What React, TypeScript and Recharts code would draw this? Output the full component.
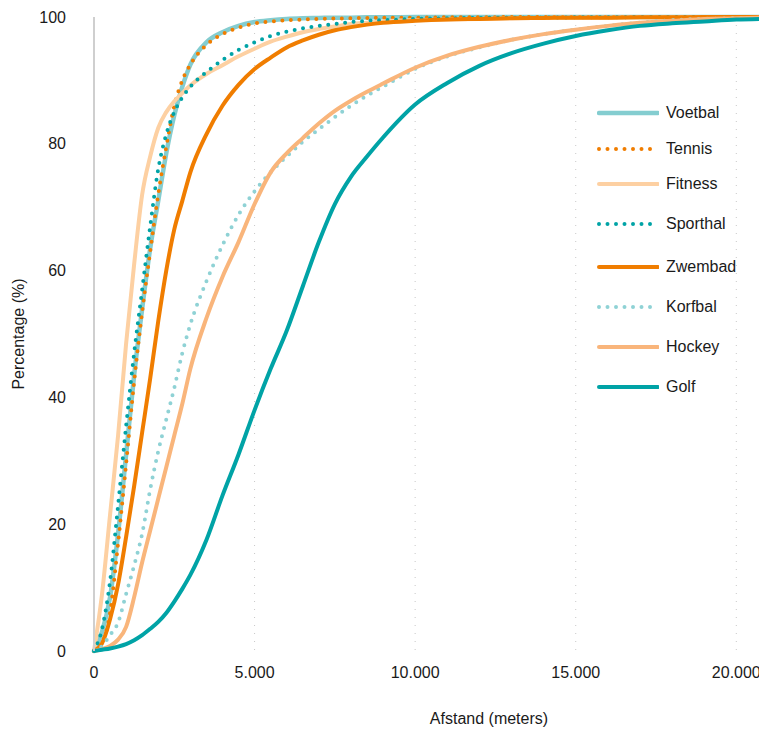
import React from "react";
import { LineChart, Line, XAxis, YAxis, CartesianGrid, Legend } from "recharts";

const afstand = [0, 250, 500, 750, 1000, 1250, 1500, 1750, 2000, 2250, 2500, 2750, 3000, 3500, 4000, 4500, 5000, 5500, 6000, 6500, 7000, 7500, 8000, 8500, 9000, 10000, 11000, 12000, 13000, 14000, 15000, 16000, 17000, 18000, 19000, 20000, 20800];

const voetbal = [0, 3, 8.5, 18.5, 31, 43.5, 54, 63.5, 71, 78.5, 84.5, 89, 92.5, 96, 97.6, 98.6, 99.2, 99.5, 99.7, 99.8, 99.85, 99.9, 99.9, 99.95, 99.95, 100, 100, 100, 100, 100, 100, 100, 100, 100, 100, 100, 100];
const tennis = [0, 1.2, 6, 17, 29.5, 42.5, 53.5, 63, 72, 79.5, 86, 90, 92.5, 95.6, 97.3, 98.3, 99, 99.3, 99.5, 99.6, 99.7, 99.75, 99.8, 99.85, 99.9, 99.9, 99.95, 99.95, 100, 100, 100, 100, 100, 100, 100, 100, 100];
const fitness = [0, 9, 21.5, 34, 48.5, 61, 72, 78, 82.5, 85, 86.7, 88, 89.2, 91, 92.4, 93.8, 95, 96.1, 96.9, 97.6, 98.1, 98.5, 98.9, 99.1, 99.3, 99.5, 99.6, 99.7, 99.8, 99.85, 99.9, 99.9, 99.95, 99.95, 100, 100, 100];
const sporthal = [0, 3.5, 11, 23, 35.5, 47, 57, 67, 76, 81.5, 85, 87.3, 89, 91.3, 93.2, 94.8, 96, 97, 97.7, 98.2, 98.6, 98.9, 99.2, 99.4, 99.5, 99.7, 99.8, 99.85, 99.9, 99.9, 99.95, 99.95, 100, 100, 100, 100, 100];
const zwembad = [0, 1.2, 5, 10.5, 18, 26, 34.5, 43, 52, 60, 66.5, 71, 75.5, 81.5, 86, 89.3, 91.8, 93.6, 95.2, 96.3, 97.2, 97.9, 98.4, 98.8, 99.1, 99.4, 99.6, 99.7, 99.8, 99.85, 99.9, 99.9, 99.95, 99.95, 100, 100, 100];
const korfbal = [0, 0.8, 2.5, 4.5, 9, 13.5, 18.5, 25.5, 31.5, 36.5, 41.5, 47, 51.5, 58.3, 64, 68.8, 72.5, 75.5, 78, 80.3, 82.3, 84.2, 86, 87.6, 89, 91.8, 93.8, 95.2, 96.4, 97.3, 98, 98.6, 99.1, 99.5, 99.7, 99.8, 99.9];
const hockey = [0, 0.3, 0.8, 1.8, 3.8, 8.5, 14, 19, 24, 29, 34, 39, 44.5, 52.5, 59, 64.5, 70.5, 75.5, 78.5, 80.9, 83.2, 85.2, 86.8, 88.2, 89.5, 92, 93.9, 95.3, 96.4, 97.3, 98, 98.6, 99.1, 99.4, 99.7, 99.8, 99.9];
const golf = [0, 0.2, 0.4, 0.7, 1.1, 1.7, 2.5, 3.5, 4.6, 6, 7.8, 9.8, 12, 17.5, 24.5, 31, 38, 44.5, 50.5, 57.5, 64.5, 70.5, 74.8, 78, 81, 86.2, 89.6, 92.3, 94.3, 95.8, 97, 97.9, 98.6, 99, 99.3, 99.6, 99.7];

const xTicks = [0, 5000, 10000, 15000, 20000];
const yTicks = [0, 20, 40, 60, 80, 100];

const data = afstand.map((a, i) => ({
  afstand: a,
  Voetbal: voetbal[i],
  Tennis: tennis[i],
  Fitness: fitness[i],
  Sporthal: sporthal[i],
  Zwembad: zwembad[i],
  Korfbal: korfbal[i],
  Hockey: hockey[i],
  Golf: golf[i],
}));

const series = [
  { key: "Voetbal", color: "#84cdd0", dotted: false, width: 4.5 },
  { key: "Tennis", color: "#f07d00", dotted: true, width: 4 },
  { key: "Fitness", color: "#fdd0a2", dotted: false, width: 4 },
  { key: "Sporthal", color: "#00a3a6", dotted: true, width: 4 },
  { key: "Zwembad", color: "#f07d00", dotted: false, width: 4 },
  { key: "Korfbal", color: "#8fd2d5", dotted: true, width: 4 },
  { key: "Hockey", color: "#f9b57b", dotted: false, width: 4 },
  { key: "Golf", color: "#00a3a6", dotted: false, width: 4 },
];

// vertical offsets (px) of legend rows
const legendRowTops = [0, 36, 71, 111, 154, 194, 234, 274];

const FONT = "'Liberation Sans', Arial, Helvetica, sans-serif";

const fmt = (v: number) => String(v).replace(/\B(?=(\d{3})+(?!\d))/g, ".");

const renderLegend = () => (
  <div style={{ position: "relative", height: 300, fontFamily: FONT, fontSize: 16, color: "#1a1a1a" }}>
    {series.map((s, i) => (
      <div
        key={s.key}
        style={{ position: "absolute", left: 0, top: legendRowTops[i], height: 20, display: "flex", alignItems: "center" }}
      >
        <svg width={62} height={10} style={{ marginRight: 7 }}>
          <line
            x1={2}
            y1={5}
            x2={61}
            y2={5}
            stroke={s.color}
            strokeWidth={s.width}
            strokeLinecap="round"
            strokeDasharray={s.dotted ? "0 8.5" : undefined}
          />
        </svg>
        <span>{s.key}</span>
      </div>
    ))}
  </div>
);

export default function App() {
  return (
    <LineChart
      width={759}
      height={723}
      data={data}
      margin={{ top: 9, right: 5, left: 0, bottom: 0 }}
      style={{ fontFamily: FONT }}
    >
      <CartesianGrid horizontal={false} stroke="#c8c8c8" strokeDasharray="1 7" />
      <XAxis
        dataKey="afstand"
        type="number"
        domain={[0, 20800]}
        ticks={xTicks}
        tickFormatter={fmt}
        axisLine={false}
        tickLine={false}
        tickSize={0}
        tickMargin={16}
        height={80}
        tick={{ fill: "#1a1a1a", fontSize: 16 }}
        label={{ value: "Afstand (meters)", position: "insideBottom", offset: 7, dx: 61, fill: "#1a1a1a", fontSize: 16 }}
      />
      <YAxis
        type="number"
        domain={[0, 100]}
        ticks={yTicks}
        axisLine={{ stroke: "#cfcfcf", strokeWidth: 2 }}
        tickLine={false}
        tickSize={0}
        tickMargin={28}
        width={86}
        tick={{ fill: "#1a1a1a", fontSize: 16 }}
        label={{ value: "Percentage (%)", angle: -90, position: "insideLeft", offset: 10, style: { textAnchor: "middle" }, fill: "#1a1a1a", fontSize: 16 }}
      />
      <Legend
        layout="vertical"
        align="center"
        verticalAlign="middle"
        content={renderLegend}
        wrapperStyle={{ left: 589, top: 95, width: 160 }}
      />
      {series.map((s) => (
        <Line
          key={s.key}
          dataKey={s.key}
          type="monotone"
          stroke={s.color}
          strokeWidth={s.width}
          strokeLinecap="round"
          strokeDasharray={s.dotted ? "0 8.5" : undefined}
          dot={false}
          activeDot={false}
          isAnimationActive={false}
        />
      ))}
    </LineChart>
  );
}
